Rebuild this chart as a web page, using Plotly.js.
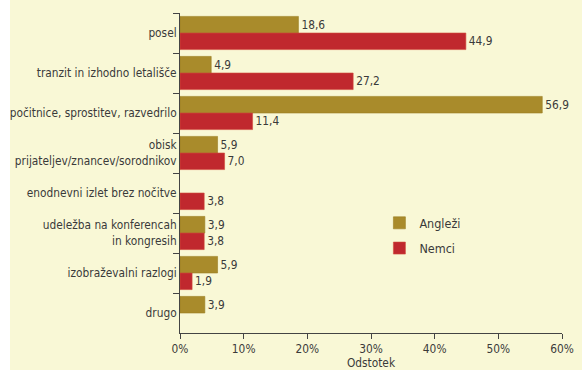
<!DOCTYPE html>
<html>
<head>
<meta charset="utf-8">
<script src="https://cdn.plot.ly/plotly-3.0.1.min.js"></script>
<style>html,body{margin:0;padding:0;background:#f9f8d6;}#chart{width:582px;height:370px;}</style>
</head>
<body>
<div id="chart"></div>
<script>
var categories = [
  "posel",
  "tranzit in izhodno letališče",
  "počitnice, sprostitev, razvedrilo",
  "obisk<br>prijateljev/znancev/sorodnikov",
  "enodnevni izlet brez nočitve",
  "udeležba na konferencah<br>in kongresih",
  "izobraževalni razlogi",
  "drugo"
];
var angleziValues = [18.6, 4.9, 56.9, 5.9, null, 3.9, 5.9, 3.9];
var nemciValues = [44.9, 27.2, 11.4, 7.0, 3.8, 3.8, 1.9, null];
var xTicks = [0, 10, 20, 30, 40, 50, 60];
var xTickLabels = ["0%", "10%", "20%", "30%", "40%", "50%", "60%"];

var FONT = '"Liberation Sans Narrow", "DejaVu Sans Condensed", "Liberation Sans", sans-serif';
var TXT = '#3a3a3a';
var FS = 11.8;

function fmt(v){ return v === null ? '' : v.toFixed(1).replace('.', ','); }

var traces = [
  {
    type: 'bar', orientation: 'h', name: 'Angleži',
    y: categories, x: angleziValues,
    marker: {color: '#a98b2b', line: {color: '#9a7d22', width: 0.6}},
    text: angleziValues.map(fmt),
    textposition: 'outside', cliponaxis: false,
    textfont: {family: FONT, size: FS, color: TXT},
    legendgroup: 'a', hoverinfo: 'x+y'
  },
  {
    type: 'bar', orientation: 'h', name: 'Nemci',
    y: categories, x: nemciValues,
    marker: {color: '#c0282e', line: {color: '#d24a3a', width: 0.6}},
    text: nemciValues.map(fmt),
    textposition: 'outside', cliponaxis: false,
    textfont: {family: FONT, size: FS, color: TXT},
    legendgroup: 'b', hoverinfo: 'x+y'
  }
];

var layout = {
  width: 582, height: 370,
  margin: {l: 180, r: 20, t: 13, b: 37, pad: 0},
  paper_bgcolor: '#f9f8d6',
  plot_bgcolor: '#f9f8d6',
  font: {family: FONT, size: FS, color: TXT},
  barmode: 'group',
  bargap: 0.17,
  bargroupgap: 0,
  showlegend: true,
  legend: {
    x: 0.522, y: 0.39, xanchor: 'left', yanchor: 'top',
    bgcolor: 'rgba(0,0,0,0)', traceorder: 'grouped', tracegroupgap: 6,
    font: {family: FONT, size: 12.5, color: TXT}
  },
  xaxis: {
    range: [0, 60], tickmode: 'array', tickvals: xTicks, ticktext: xTickLabels,
    showgrid: false, zeroline: false,
    showline: true, linecolor: '#444', linewidth: 1,
    ticks: 'outside', ticklen: 5, tickcolor: '#444',
    tickfont: {family: FONT, size: FS, color: TXT},
    title: {text: 'Odstotek', standoff: 7, font: {family: FONT, size: FS, color: TXT}},
    automargin: false,
    fixedrange: true
  },
  yaxis: {
    type: 'category', autorange: 'reversed',
    showgrid: false, zeroline: false,
    showline: true, linecolor: '#444', linewidth: 1,
    ticks: 'outside', ticklen: 6, tickcolor: '#444', tickson: 'boundaries',
    tickfont: {family: FONT, size: FS, color: TXT},
    automargin: false,
    fixedrange: true
  },
  shapes: [
    {type: 'rect', xref: 'paper', yref: 'paper', x0: -180/382, x1: -170/382, y0: -37/320, y1: 1 + 13/320,
     fillcolor: '#ffffff', line: {width: 0}, layer: 'below'}
  ]
};

Plotly.newPlot('chart', traces, layout, {displayModeBar: false, staticPlot: true});
</script>
</body>
</html>
